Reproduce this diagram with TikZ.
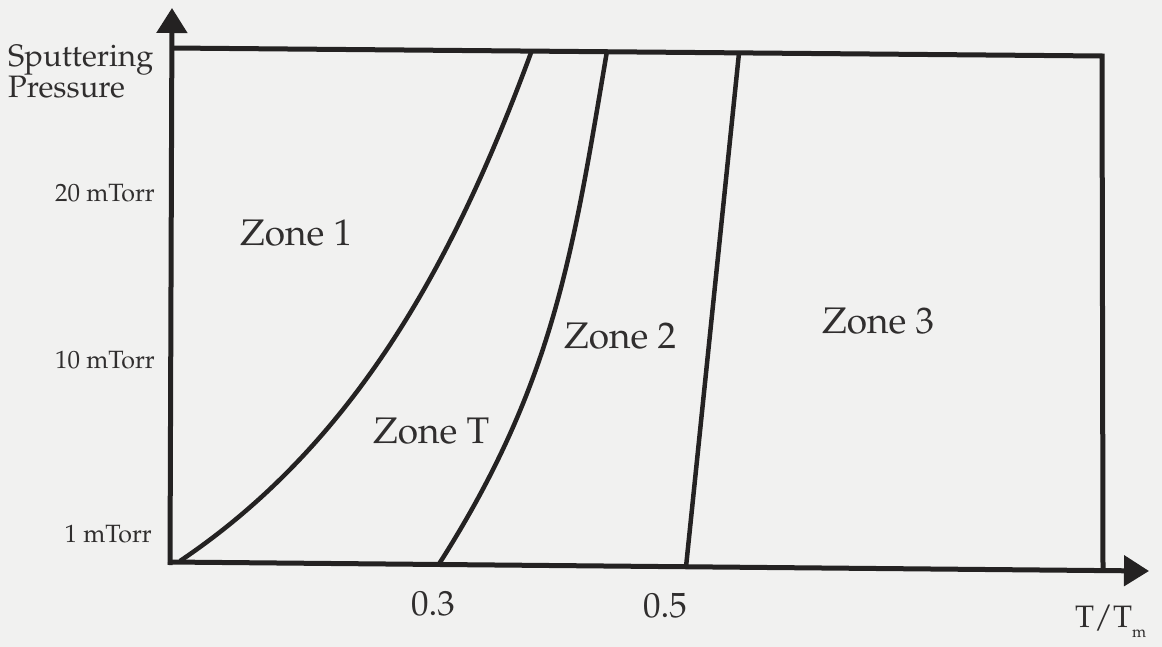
\documentclass[tikz,border=0pt]{standalone}
\usepackage[T1]{fontenc}
\usepackage{mathpazo}
\usetikzlibrary{arrows.meta}
\definecolor{bg}{RGB}{241,241,240}
\definecolor{ink}{RGB}{36,34,34}
\definecolor{txt}{RGB}{48,46,46}
\begin{document}
\begin{tikzpicture}[x=1pt,y=-1pt,
  axis/.style={ink,line width=5pt,-{Triangle[length=25pt,width=30pt]}},
  border/.style={ink,line width=5pt,line join=miter},
  zonecurve/.style={ink,line width=4.5pt},
  zonelabel/.style={txt,inner sep=0pt,font=\fontsize{37}{44}\selectfont},
  ticklabel/.style={txt,inner sep=0pt,font=\fontsize{25}{30}\selectfont},
  axislabel/.style={txt,inner sep=0pt,font=\fontsize{31}{36}\selectfont},
  xticklabel/.style={txt,inner sep=0pt,font=\fontsize{35}{40}\selectfont}]
\fill[bg] (0,0) rectangle (1162,647);
\useasboundingbox (0,0) rectangle (1162,647);
% frame
\draw[border] (171,48) -- (1102,56) -- (1103,569);
% zone boundaries
\coordinate (c1a) at (180,561);
\coordinate (c1b) at (532,50);
\coordinate (c2a) at (439,564);
\coordinate (c2b) at (607,51);
\coordinate (c3a) at (686,567);
\coordinate (c3b) at (739,53);
\draw[zonecurve] (c1a) .. controls (360,440) and (458,252) .. (c1b);
\draw[zonecurve] (c2a) .. controls (554,384) and (573,252) .. (c2b);
\draw[zonecurve] (c3a) -- (c3b);
% axes
\draw[axis] (170,565) -- (172,8);
\draw[axis] (168,562) -- (1149,571);
% axis labels
\node[axislabel,anchor=base west] (sp) at (8,67) {Sputtering};
\node[axislabel,anchor=base west] (pr) at (8,98) {Pressure};
\node[ticklabel,anchor=base east] (t20) at (155,202) {20 mTorr};
\node[ticklabel,anchor=base east] (t10) at (155,368) {10 mTorr};
\node[ticklabel,anchor=base east] (t1) at (152,542) {1 mTorr};
\node[xticklabel,anchor=base west] (x3) at (411,615) {0.3};
\node[xticklabel,anchor=base west] (x5) at (643,617) {0.5};
\node[axislabel,anchor=base west] (tt) at (1075,627) {T/T\raisebox{-10pt}{\fontsize{16}{18}\selectfont m}};
% zone labels
\node[zonelabel,anchor=base west] (z1) at (240,245) {Zone 1};
\node[zonelabel,anchor=base west] (zt) at (373,443) {Zone T};
\node[zonelabel,anchor=base west] (z2) at (564,348) {Zone 2};
\node[zonelabel,anchor=base west] (z3) at (822,333) {Zone 3};
\end{tikzpicture}
\end{document}
